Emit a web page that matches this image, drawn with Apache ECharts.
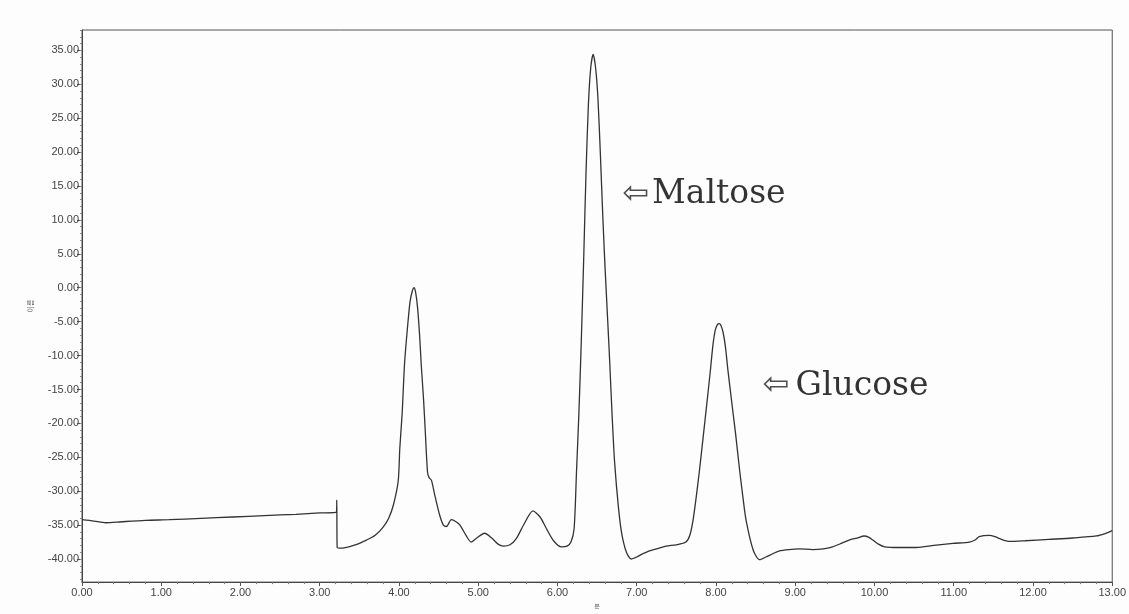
<!DOCTYPE html>
<html>
<head>
<meta charset="utf-8">
<script src="https://cdn.jsdelivr.net/npm/echarts@6/dist/echarts.min.js"></script>
<style>html,body{margin:0;padding:0;background:#fdfdfd;}#chart{width:1129px;height:614px;}</style>
</head>
<body>
<div id="chart"></div>
<script>
// Retention time (min)
const timeMin = [
  0.00,0.15,0.30,0.50,0.80,1.10,1.50,1.90,2.30,2.70,3.00,3.21,3.215,3.22,3.28,3.45,3.59,3.70,3.80,3.87,
  3.93,3.99,4.01,4.04,4.07,4.11,4.14,4.17,4.19,4.21,4.235,4.26,4.28,4.31,4.33,4.36,4.38,4.41,4.45,4.51,
  4.56,4.60,4.66,4.72,4.77,4.85,4.91,4.97,5.08,5.17,5.25,5.32,5.40,5.48,5.58,5.69,5.78,5.86,5.95,6.05,
  6.12,6.17,6.21,6.24,6.27,6.30,6.33,6.36,6.39,6.42,6.45,6.48,6.51,6.54,6.57,6.60,6.63,6.66,6.69,6.72,
  6.77,6.81,6.87,6.93,7.00,7.08,7.16,7.25,7.37,7.50,7.62,7.67,7.71,7.75,7.79,7.84,7.89,7.93,7.96,7.99,
  8.02,8.04,8.06,8.09,8.12,8.15,8.20,8.25,8.30,8.34,8.38,8.47,8.55,8.63,8.72,8.80,8.92,9.05,9.22,9.35,
  9.47,9.58,9.68,9.78,9.87,9.93,9.98,10.05,10.13,10.30,10.53,10.75,10.99,11.20,11.27,11.32,11.45,11.52,11.58,11.70,
  11.90,12.20,12.50,12.80,12.92,13.00
];
// Detector signal
const signal = [
  -34.2,-34.4,-34.65,-34.5,-34.3,-34.2,-34.0,-33.8,-33.6,-33.4,-33.2,-33.1,-31.3,-38.3,-38.4,-37.9,-37.2,-36.5,-35.3,-34.0,
  -32.0,-28.5,-23.7,-18.5,-11.2,-5.5,-2.0,-0.4,0.0,-0.7,-3.0,-7.0,-11.2,-16.5,-20.8,-27.2,-28.0,-28.4,-30.5,-33.4,
  -35.0,-35.2,-34.2,-34.5,-35.0,-36.6,-37.5,-37.0,-36.2,-36.9,-37.8,-38.1,-37.9,-37.0,-34.8,-32.9,-33.8,-35.5,-37.3,-38.2,
  -38.1,-37.5,-35.5,-27.1,-18.5,-8.0,4.0,17.0,27.0,32.5,34.4,32.5,28.0,20.0,11.0,3.0,-4.0,-11.2,-19.0,-25.6,
  -32.5,-36.2,-39.0,-40.0,-39.7,-39.2,-38.8,-38.5,-38.1,-37.9,-37.5,-36.5,-34.3,-30.9,-27.1,-21.8,-16.5,-12.1,-8.6,-6.3,
  -5.4,-5.3,-5.5,-6.6,-8.8,-12.1,-17.0,-21.8,-27.1,-30.9,-34.3,-38.7,-40.1,-39.7,-39.2,-38.8,-38.6,-38.5,-38.6,-38.5,
  -38.2,-37.7,-37.2,-36.9,-36.6,-36.8,-37.2,-37.8,-38.2,-38.3,-38.3,-38.0,-37.7,-37.5,-37.2,-36.7,-36.5,-36.7,-37.0,-37.4,
  -37.3,-37.1,-36.9,-36.6,-36.2,-35.8
];
// Y tick labels
const yTicks = [-40,-35,-30,-25,-20,-15,-10,-5,0,5,10,15,20,25,30,35];
const yMinorTicks = [];
for (let v = -43; v <= 38; v++) yMinorTicks.push(v);
// Annotations
const annotationLabels = ['Maltose', 'Glucose'];
const annotationTime = [6.81, 8.58];
const annotationSignal = [13.7, -14.5];
const annotationGap = ['', ' '];

const chart = echarts.init(document.getElementById('chart'));
const lineData = timeMin.map((t, i) => [t, signal[i]]);
const annData = annotationTime.map((t, i) => ({
  value: [t, annotationSignal[i]],
  label: { formatter: '{a|⇦}' + annotationGap[i] + '{t|' + annotationLabels[i] + '}' }
}));

const axisLabelStyle = { color: '#444', fontFamily: 'Liberation Sans, Arial, sans-serif', fontSize: 11 };

chart.setOption({
  backgroundColor: '#fdfdfd',
  animation: false,
  grid: { left: 82, top: 30, right: 15, bottom: 21, show: true, borderColor: '#555', borderWidth: 1, backgroundColor: 'transparent' },
  xAxis: {
    type: 'value', min: 0, max: 13, interval: 1,
    name: '분', nameLocation: 'middle', nameGap: 17,
    nameTextStyle: { color: '#666', fontSize: 6 },
    axisLine: { show: true, onZero: false, lineStyle: { color: '#444', width: 1 } },
    axisTick: { show: true, length: 4, lineStyle: { color: '#555' } },
    minorTick: { show: true, splitNumber: 5, length: 2, lineStyle: { color: '#777' } },
    splitLine: { show: false },
    axisLabel: Object.assign({ margin: 5, formatter: v => v.toFixed(2) }, axisLabelStyle)
  },
  yAxis: [{
    type: 'value', min: -43.4, max: 38.0,
    name: '이름', nameLocation: 'middle', nameRotate: 90, nameGap: 48,
    nameTextStyle: { color: '#666', fontSize: 7, fontFamily: 'Noto Sans CJK KR' },
    axisLine: { show: true, onZero: false, lineStyle: { color: '#444', width: 1 } },
    axisTick: { show: true, length: 5, customValues: yTicks, lineStyle: { color: '#555' } },
    splitLine: { show: false },
    axisLabel: Object.assign({ margin: 3, customValues: yTicks, formatter: v => v.toFixed(2) }, axisLabelStyle)
  }, {
    type: 'value', min: -43.4, max: 38.0, position: 'left',
    axisLine: { show: false, onZero: false },
    axisTick: { show: true, length: 2, customValues: yMinorTicks, lineStyle: { color: '#888' } },
    axisLabel: { show: false, customValues: yMinorTicks },
    splitLine: { show: false }
  }],
  series: [{
    type: 'line',
    data: lineData,
    showSymbol: false,
    smooth: 0.25,
    lineStyle: { color: '#333', width: 1.3 },
    silent: true
  }, {
    type: 'scatter',
    data: annData,
    symbolSize: 1,
    itemStyle: { color: 'rgba(0,0,0,0)' },
    silent: true,
    label: {
      show: true, position: 'right', distance: 0, color: '#000',
      rich: {
        a: { fontFamily: 'DejaVu Sans', fontSize: 32, color: '#222', padding: [0, 3, 0, 0] },
        t: { fontFamily: 'DejaVu Serif', fontSize: 33, color: '#000' }
      }
    }
  }]
});
</script>
</body>
</html>
